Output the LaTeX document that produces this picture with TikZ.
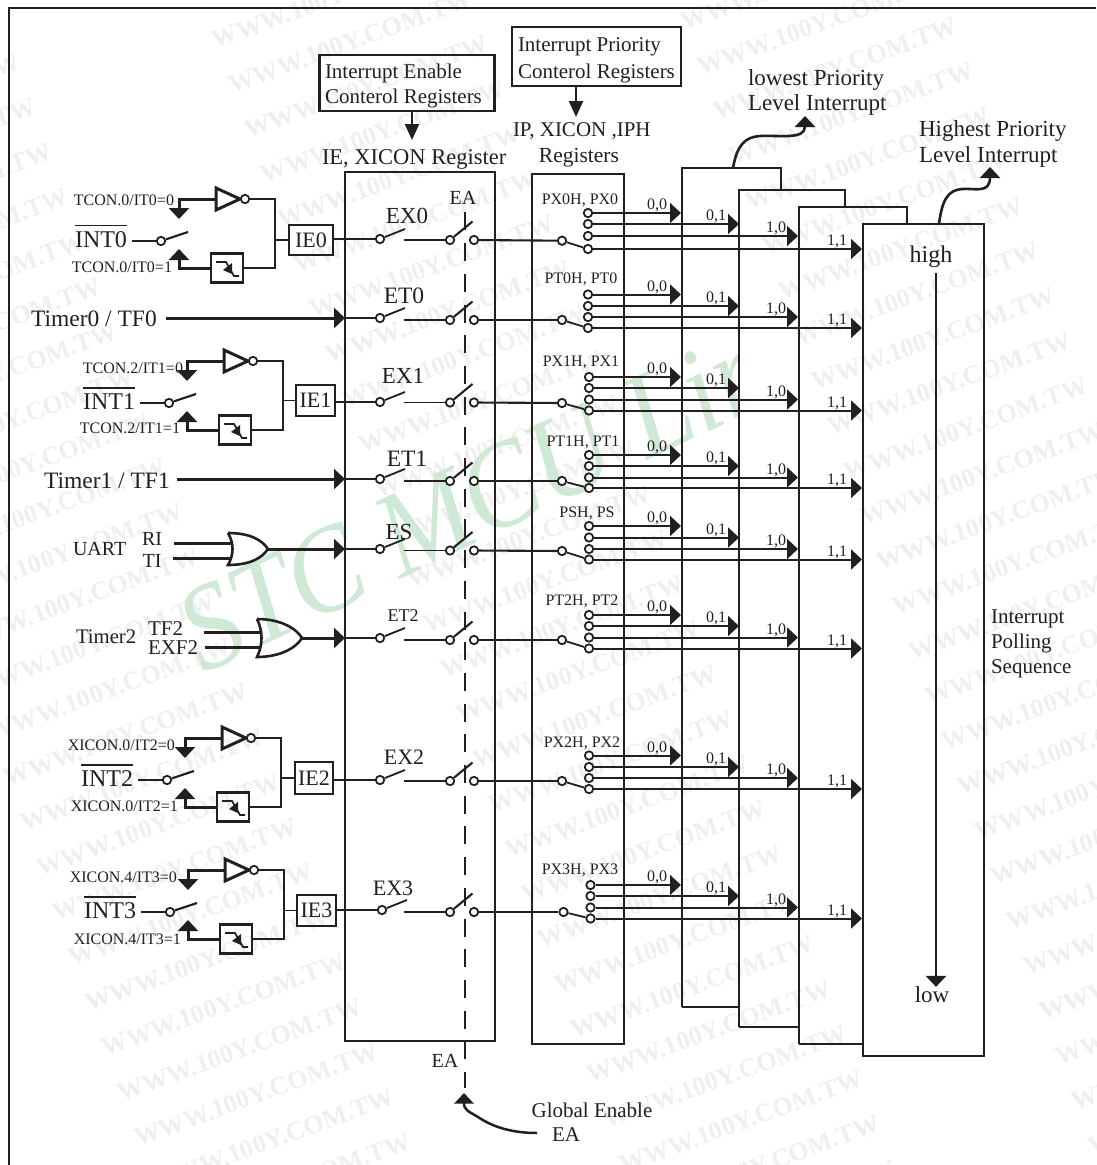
\documentclass[tikz,border=0pt]{standalone}
\usepackage{fontspec}
\setmainfont{Liberation Serif}
\usetikzlibrary{arrows.meta,calc}
\definecolor{ink}{HTML}{231F20}
\definecolor{wmgrey}{HTML}{EFEFEF}
\definecolor{wmgreen}{HTML}{CFE9D6}
\tikzset{
  txt/.style={inner sep=0pt,outer sep=0pt,text=ink,font=\fontsize{#1}{#1}\selectfont},
  frameline/.style={line width=2.6pt},
  regline/.style={line width=2.6pt},
  wire/.style={line width=1.8pt},
  prio/.style={line width=2pt},
  power/.style={line width=3pt},
  circ/.style={circle,draw=ink,fill=white,inner sep=0pt,minimum size=8.4pt,line width=1.8pt},
  bx/.style={draw=ink,line width=2.6pt,inner sep=0pt,outer sep=0pt},
  bigtip/.style={-{Triangle[length=11pt,width=20pt]}},
  smalltip/.style={-{Triangle[length=16pt,width=14pt]}},
  valtxt/.style={txt=16},
}
% interrupt-source block: id, cx, cy, text, IE centre x, IE centre y, IE width, IE height
\newcommand{\intblock}[8]{%
  \node[txt=24,anchor=base east] (int#1) at (#2-34,#3+6) {\vbox{\hrule height 1.6pt\kern 4.6pt\hbox{#4}}};
  \node[circ] (sw#1) at (#2,#3) {};
  \draw[line width=2.4pt] ([xshift=5pt]int#1.base east |- sw#1) -- (sw#1);
  \draw[line width=2.1pt] (sw#1) -- ++(27,-9);
  \coordinate (inv#1) at (#2+55,#3-42);
  \draw[power] (inv#1) ++(0,-11) -- ++(24,11) -- ++(-24,11) -- cycle;
  \node[circ] (bub#1) at (#2+84,#3-42) {};
  \node[bx,minimum width=32pt,minimum height=29pt] (st#1) at (#2+66,#3+27) {};
  \draw[line width=1.7pt] (st#1.center) ++(-11,-6) -- ++(10,0) -- ++(8,14) -- ++(5,0);
  \fill (st#1.center) ++(5,-5) -- ++(-9,7) -- ++(9,4) -- cycle;
  \node[bx,txt=22,minimum width=#7pt,minimum height=#8pt] (ie#1) at (#5,#6) {IE#1};
  \coordinate (j#1) at (#2+114,#6);
  \draw[wire] (j#1) -- (ie#1.west);
  \draw[wire] (bub#1.east) -- (bub#1 -| j#1) -- (st#1 -| j#1) -- (st#1.east);
  \coordinate (up#1) at (#2+18,#3-22);
  \coordinate (dn#1) at (#2+18,#3+8);
  \draw[power,bigtip] (inv#1) -| (up#1);
  \draw[power,bigtip] (st#1.west) -| (dn#1);
}
% enable row: id, ex x, left y, right y, label, label x, label y, label size
\newcommand{\enrow}[8]{%
  \node[circ] (ex#1) at (#2,#3) {};
  \draw[wire] (ex#1) -- ++(25,-10);
  \node[circ] (ea#1) at (450,#4) {};
  \node[circ] (eb#1) at (474,#4) {};
  \draw[wire] (ea#1) -- ++(-46,0);
  \draw[line width=2.1pt] (ea#1) -- ++(22.5,-18.5);
  \node[txt=#8] (exl#1) at (#6,#7) {#5};
}
% priority row: id, pin x, pin y, contact x, c1, c2, c3, c4
\newcommand{\prrow}[8]{%
  \node[circ] (pin#1) at (#2,#3) {};
  \node[circ] (ca#1) at (#4,#5) {};
  \node[circ] (cb#1) at (#4,#6) {};
  \node[circ] (cc#1) at (#4,#7) {};
  \node[circ] (cd#1) at (#4,#8) {};
  \draw[wire] (pin#1) -- (cd#1);
  \draw[line width=2.1pt] (eb#1) -- (pin#1);
  \draw[prio,bigtip] (ca#1) -- (ca#1 -| t1);
  \draw[prio,bigtip] (cb#1) -- (cb#1 -| t2);
  \draw[prio,bigtip] (cc#1) -- (cc#1 -| t3);
  \draw[prio,bigtip] (cd#1) -- (cd#1 -| t4);
  \node[valtxt] (va#1) at ($(ca#1 -| t1)+(-24,-7.5)$) {0,0};
  \node[valtxt] (vb#1) at ($(cb#1 -| t2)+(-23,-7.5)$) {0,1};
  \node[valtxt] (vc#1) at ($(cc#1 -| t3)+(-22,-7.5)$) {1,0};
  \node[valtxt] (vd#1) at ($(cd#1 -| t4)+(-25,-7.5)$) {1,1};
}
\begin{document}
\begin{tikzpicture}[x=1pt,y=-1pt,color=ink]
\useasboundingbox (0,0) rectangle (1096,1165);
% watermarks
\begin{scope}
  \clip (0,0) rectangle (1096,1165);
  \foreach \i in {-3,...,3}{
    \foreach \j in {-30,...,8}{
      \pgfmathsetmacro{\wx}{138+\i*420+\j*16.3}
      \pgfmathsetmacro{\wy}{1147-\i*153+\j*45}
      \pgfmathtruncatemacro{\keep}{and(and(\wx<1096,\wx>-244),and(\wy>0,\wy<1270))}
      \ifnum\keep=1
        \node[inner sep=0pt,anchor=base west,rotate=20,text=wmgrey,font=\fontsize{26}{26}\selectfont\bfseries] (wm\i\j) at (\wx,\wy) {WWW.100Y.COM.TW};
      \fi
    }
  }
\end{scope}
\begin{scope}
  \clip (0,0) rectangle (739,1165);
  \node[inner sep=0pt,anchor=base west,rotate=25.7,text=wmgreen,font=\fontsize{122}{122}\selectfont\itshape] (stc) at (203,675) {\scalebox{0.91}[1]{STC MCU Lin}};
\end{scope}
% frame
\coordinate (fa) at (1096,8);
\coordinate (fb) at (9,8);
\coordinate (fc) at (9,1165);
\draw[frameline] (fa) -- (fb) -- (fc);
% register boxes
\node[bx,minimum width=150pt,minimum height=869pt] (ieBox) at (420,606.5) {};
\node[bx,minimum width=92pt,minimum height=870pt] (ipBox) at (578,609) {};
% stacked level boxes
\draw[regline] (682,1007) -- (682,168) -- (781,168) -- (781,190);
\draw[regline] (682,1007) -- (739,1007);
\draw[regline] (739,1027) -- (739,190) -- (845,190) -- (845,207);
\draw[regline] (739,1027) -- (799,1027);
\draw[regline] (799,1044) -- (799,207) -- (907,207) -- (907,224);
\draw[regline] (799,1044) -- (863,1044);
\node[bx,minimum width=121pt,minimum height=832pt] (lvBox) at (923.5,640) {};
\coordinate (t1) at (681,0);
\coordinate (t2) at (739,0);
\coordinate (t3) at (798,0);
\coordinate (t4) at (862,0);
% header boxes
\node[bx,minimum width=175pt,minimum height=56pt] (ieHead) at (407,83) {};
\node[txt=21,anchor=west] (ieHeadA) at (325,73) {Interrupt Enable};
\node[txt=21,anchor=west] (ieHeadB) at (325,98) {Conterol Registers};
\node[bx,minimum width=169pt,minimum height=59pt] (ipHead) at (596.5,56.5) {};
\node[txt=21,anchor=west] (ipHeadA) at (518,47) {Interrupt Priority};
\node[txt=21,anchor=west] (ipHeadB) at (518,73) {Conterol Registers};
\node[txt=22.5,anchor=west] (ieTitle) at (322,159) {IE, XICON Register};
\node[txt=21,anchor=west] (ipTitleA) at (513,131) {IP, XICON ,IPH};
\node[txt=21.5] (ipTitleB) at (579,158) {Registers};
\coordinate (ieHeadTip) at (412,140);
\coordinate (ipHeadTip) at (576,117);
\draw[line width=2.4pt,smalltip] (ieHead.south -| ieHeadTip) -- (ieHeadTip);
\draw[line width=2.4pt,smalltip] (ipHead.south -| ipHeadTip) -- (ipHeadTip);
\node[txt=23,anchor=west] (lowA) at (748,80) {lowest Priority};
\node[txt=23,anchor=west] (lowB) at (748,105) {Level Interrupt};
\node[txt=23,anchor=west] (hiA) at (919,131) {Highest Priority};
\node[txt=23,anchor=west] (hiB) at (919,157) {Level Interrupt};
\coordinate (lowS) at (733,168);
\coordinate (lowE) at (805,116);
\coordinate (hiS) at (939,224);
\coordinate (hiE) at (990,167);
\draw[line width=2.6pt,-{Triangle[length=11pt,width=20pt]}] (lowS) .. controls (737,145) and (745,137) .. (760,136) .. controls (780,135) and (805,140) .. (lowE);
\draw[line width=2.6pt,-{Triangle[length=11pt,width=20pt]}] (hiS) .. controls (942,200) and (948,190) .. (962,189) .. controls (975,188) and (990,194) .. (hiE);
% level box texts
\node[txt=24] (high) at (931,257) {high};
\node[txt=23] (low) at (932,995) {low};
\coordinate (seqx) at (936,0);
\draw[line width=2.4pt,bigtip] (high.south -| seqx) ++(0,5) -- (low.north -| seqx);
\node[txt=21,anchor=west] (polA) at (991,618.5) {Interrupt};
\node[txt=21,anchor=west] (polB) at (991,643.5) {Polling};
\node[txt=21,anchor=west] (polC) at (991,668.5) {Sequence};
% interrupt sources
\intblock{0}{161}{241}{INT0}{311}{240}{44}{30}
\intblock{1}{169}{403}{INT1}{315.5}{400.5}{39}{31}
\intblock{2}{167}{780}{INT2}{314}{778}{38}{32}
\intblock{3}{170}{912}{INT3}{316.5}{910.5}{39}{31}
\node[txt=16,anchor=east] (l0a) at (174,200) {TCON.0/IT0=0};
\node[txt=16,anchor=east] (l0b) at (172,267) {TCON.0/IT0=1};
\node[txt=16,anchor=east] (l1a) at (183,368) {TCON.2/IT1=0};
\node[txt=16,anchor=east] (l1b) at (180,428) {TCON.2/IT1=1};
\node[txt=16,anchor=east] (l2a) at (175,745) {XICON.0/IT2=0};
\node[txt=16,anchor=east] (l2b) at (178,806) {XICON.0/IT2=1};
\node[txt=16,anchor=east] (l3a) at (177,877) {XICON.4/IT3=0};
\node[txt=16,anchor=east] (l3b) at (181,939) {XICON.4/IT3=1};
% enable switches
\enrow{0}{380}{239}{240}{EX0}{407}{216}{23}
\enrow{1}{380}{318}{320}{ET0}{404}{296}{23.5}
\enrow{2}{380}{402}{402.5}{EX1}{403}{376}{23}
\enrow{3}{380}{479}{481}{ET1}{407}{459}{23.5}
\enrow{4}{380}{549}{550.5}{ES}{399}{532}{23}
\enrow{5}{380}{638}{640}{ET2}{403}{616}{18}
\enrow{6}{380}{780}{781}{EX2}{404}{757}{22}
\enrow{7}{382}{910}{912}{EX3}{393}{888}{22}
\node[txt=20] (eaTop) at (463,198) {EA};
% inputs into enable switches
\draw[wire] (ie0.east |- ex0) -- (ex0);
\draw[wire] (ie1.east |- ex2) -- (ex2);
\draw[wire] (ie2.east |- ex6) -- (ex6);
\draw[wire] (ie3.east |- ex7) -- (ex7);
\node[txt=23.5,anchor=west] (timer0) at (31,319) {Timer0 / TF0};
\node[txt=23.5,anchor=west] (timer1) at (44,481) {Timer1 / TF1};
\draw[power,bigtip] ([xshift=9pt]timer0.east |- ex1) -- (ex1 -| ieBox.west);
\draw[wire] (ex1 -| ieBox.west) -- (ex1);
\draw[power,bigtip] ([xshift=7pt]timer1.east |- ex3) -- (ex3 -| ieBox.west);
\draw[wire] (ex3 -| ieBox.west) -- (ex3);
% UART
\node[txt=20,anchor=west] (uart) at (73,549) {UART};
\node[txt=20] (ri) at (152,539) {RI};
\node[txt=20] (ti) at (152,561) {TI};
\coordinate (orAa) at (232,543);
\coordinate (orAb) at (232,558);
\coordinate (orAo) at (268,549);
\draw[line width=2.6pt] (228,533) .. controls (250,533) and (262,540) .. (orAo) .. controls (262,558) and (250,565) .. (228,565) .. controls (234,555) and (234,543) .. (228,533);
\draw[power] (orAa) -- ++(-58,0);
\draw[power] (orAb) -- ++(-59,0);
\draw[power,bigtip] (orAo) -- (orAo -| ieBox.west);
\draw[wire] (ex4 -| ieBox.west) -- (ex4);
% Timer2
\node[txt=20.7,anchor=west] (timer2) at (76,637) {Timer2};
\node[txt=21,anchor=west] (tf2) at (148,629) {TF2};
\node[txt=21,anchor=west] (exf2) at (148,648) {EXF2};
\coordinate (orBa) at (260,632);
\coordinate (orBb) at (260,647);
\coordinate (orBo) at (302,638);
\draw[line width=2.6pt] (257,619) .. controls (280,619) and (296,628) .. (orBo) .. controls (296,648) and (280,657) .. (257,657) .. controls (263,645) and (263,631) .. (257,619);
\draw[power] (orBa) -- ++(-56,0);
\draw[power] (orBb) -- ++(-55,0);
\draw[power,bigtip] (orBo) -- (orBo -| ieBox.west);
\draw[wire] (ex5 -| ieBox.west) -- (ex5);
% priority selectors
\prrow{0}{562}{240.7}{588}{213}{224}{236}{249}
\prrow{1}{562}{320}{588}{294.5}{306}{317}{328}
\prrow{2}{562}{403}{589}{377}{388}{399.5}{410.5}
\prrow{3}{562}{481}{589}{455}{466}{477.5}{488}
\prrow{4}{562}{551}{589}{526}{537.5}{549}{559.5}
\prrow{5}{562}{640}{589}{615}{626}{637.5}{648.5}
\prrow{6}{562}{781}{589}{755.5}{767}{778}{789}
\prrow{7}{563.5}{912}{590.5}{885}{896}{907.5}{918.5}
\node[txt=16] (pl0) at (580,200) {PX0H, PX0};
\node[txt=16] (pl1) at (581,279) {PT0H, PT0};
\node[txt=16] (pl2) at (581,362) {PX1H, PX1};
\node[txt=16] (pl3) at (583,442) {PT1H, PT1};
\node[txt=16] (pl4) at (587,513) {PSH, PS};
\node[txt=16] (pl5) at (582,601) {PT2H, PT2};
\node[txt=16] (pl6) at (582,743) {PX2H, PX2};
\node[txt=16] (pl7) at (580,870) {PX3H, PX3};
% global enable
\coordinate (eaS) at (465,212.4);
\coordinate (eaE) at (465,1088);
\draw[line width=1.9pt,dash pattern=on 18pt off 12.7pt] (eaS) -- (eaE);
\node[txt=20] (eaBot) at (445,1061) {EA};
\node[txt=21] (glob) at (592,1110) {Global Enable};
\node[txt=21] (globEA) at (566,1135) {EA};
\coordinate (gS) at (537,1133);
\coordinate (gE) at (464,1093);
\draw[line width=2.5pt,-{Triangle[length=10.5pt,width=19pt]}] (gS) .. controls (508,1133) and (490,1125) .. (478,1117) .. controls (468,1111) and (464,1110) .. (gE);
\end{tikzpicture}
\end{document}
